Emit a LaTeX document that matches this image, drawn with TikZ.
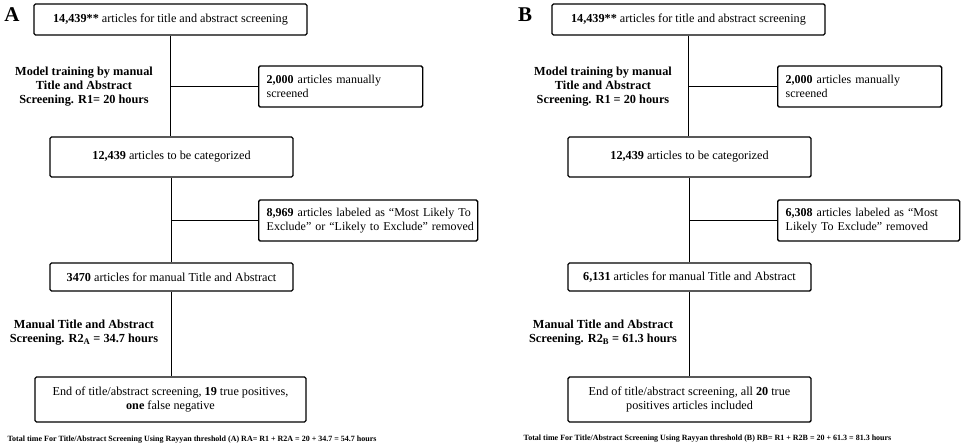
\documentclass[tikz,border=0pt]{standalone}
\usepackage{fontspec}
\setmainfont{Liberation Serif}
\begin{document}
\begin{tikzpicture}[x=1pt,y=-1pt,
  box/.style={draw,line width=1.4pt,rounded corners=1.5pt,inner sep=0pt,align=center,font=\fontsize{12.2}{14.5}\selectfont},
  sidebox/.style={draw,line width=1.4pt,rounded corners=1.5pt,inner xsep=8pt,inner ysep=0pt,align=left,anchor=west,font=\fontsize{12}{14.5}\selectfont},
  lbl/.style={align=center,font=\fontsize{12.3}{14}\selectfont\bfseries},
  panel/.style={font=\fontsize{21}{21}\selectfont\bfseries},
  foot/.style={font=\fontsize{8}{9}\selectfont\bfseries},
  conn/.style={line width=1.4pt}]
\useasboundingbox (0,0) rectangle (961,444);
% ---------------- Panel A ----------------
\node[panel] (pA) at (12,15) {A};
\node[box,minimum width=273pt,minimum height=31pt] (a1) at (170.5,19.5) {\textbf{14,439**} articles for title and abstract screening};
\node[sidebox,minimum width=164pt,minimum height=41pt,text width=148pt] (as1) at (258,86.5) {\mbox{\textbf{2,000} articles manually}\\\mbox{screened}};
\node[lbl] (al1) at (84,87) {Model training by manual\\Title and Abstract\\Screening. R1= 20 hours};
\node[box,minimum width=243pt,minimum height=40pt] (a2) at (171.5,157) {\textbf{12,439} articles to be categorized};
\node[sidebox,minimum width=219pt,minimum height=41pt,text width=203pt] (as2) at (258,220.5) {\mbox{\textbf{8,969} articles labeled as “Most Likely To}\\\mbox{Exclude” or “Likely to Exclude” removed}};
\node[box,minimum width=243pt,minimum height=28pt] (a3) at (171.5,277) {\textbf{3470} articles for manual Title and Abstract};
\node[lbl] (al2) at (84,333) {Manual Title and Abstract\\Screening. R2\textsubscript{A} = 34.7 hours};
\node[box,minimum width=271pt,minimum height=45pt] (a4) at (170.5,399.5) {End of title/abstract screening, \textbf{19} true positives,\\\textbf{one} false negative};
\node[foot] (af) at (192,439.5) {Total time For Title/Abstract Screening Using Rayyan threshold (A) RA= R1 + R2A = 20 + 34.7 = 54.7 hours};
\draw[conn] (a1.south) -- (a1.south |- a2.north);
\draw[conn] (as1.west) -- (as1.west -| a1.south);
\draw[conn] (a2.south) -- (a2.south |- a3.north);
\draw[conn] (as2.west) -- (as2.west -| a2.south);
\draw[conn] (a3.south) -- (a3.south |- a4.north);
% ---------------- Panel B ----------------
\node[panel] (pB) at (525,15) {B};
\node[box,minimum width=273pt,minimum height=31pt] (b1) at (688.5,19.5) {\textbf{14,439**} articles for title and abstract screening};
\node[sidebox,minimum width=164pt,minimum height=41pt,text width=148pt] (bs1) at (777,86.5) {\mbox{\textbf{2,000} articles manually}\\\mbox{screened}};
\node[lbl] (bl1) at (603,87) {Model training by manual\\Title and Abstract\\Screening. R1 = 20 hours};
\node[box,minimum width=243pt,minimum height=40pt] (b2) at (689.5,157) {\textbf{12,439} articles to be categorized};
\node[sidebox,minimum width=182pt,minimum height=41pt,text width=166pt] (bs2) at (777,220.5) {\mbox{\textbf{6,308} articles labeled as “Most}\\\mbox{Likely To Exclude” removed}};
\node[box,minimum width=243pt,minimum height=28pt] (b3) at (689.5,277) {\textbf{6,131} articles for manual Title and Abstract};
\node[lbl] (bl2) at (603,333) {Manual Title and Abstract\\Screening. R2\textsubscript{B} = 61.3 hours};
\node[box,minimum width=243pt,minimum height=45pt] (b4) at (689.5,399.5) {End of title/abstract screening, all \textbf{20} true\\positives articles included};
\node[foot] (bf) at (707.5,438.5) {Total time For Title/Abstract Screening Using Rayyan threshold (B) RB= R1 + R2B = 20 + 61.3 = 81.3 hours};
\draw[conn] (b1.south) -- (b1.south |- b2.north);
\draw[conn] (bs1.west) -- (bs1.west -| b1.south);
\draw[conn] (b2.south) -- (b2.south |- b3.north);
\draw[conn] (bs2.west) -- (bs2.west -| b2.south);
\draw[conn] (b3.south) -- (b3.south |- b4.north);
\end{tikzpicture}
\end{document}
